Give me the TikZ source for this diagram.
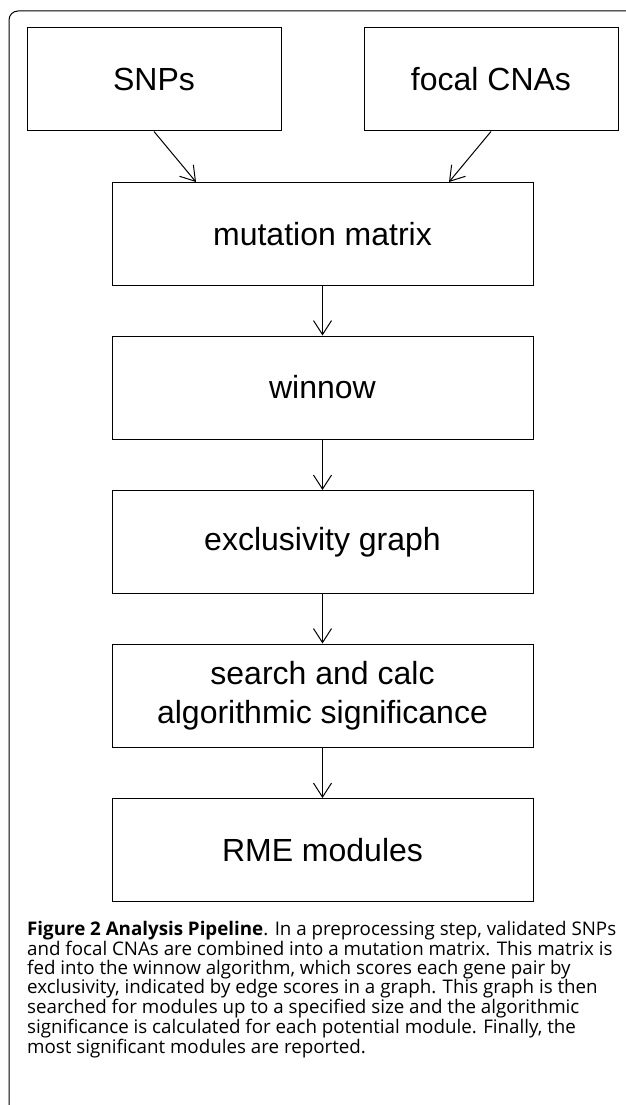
\documentclass[tikz,border=0pt]{standalone}
\usepackage{fontspec}
\setmainfont{Liberation Sans}
\newfontfamily\capfont{Open Sans}
\usetikzlibrary{arrows.meta}

\begin{document}
\begin{tikzpicture}[x=1pt,y=-1pt,
  stage/.style={draw,line width=1pt,minimum height=103pt,inner sep=0pt,
    font=\fontsize{32}{39}\selectfont,align=center},
  small/.style={stage,minimum width=254pt},
  wide/.style={stage,minimum width=421pt},
  flow/.style={line width=1pt,-{Straight Barb[length=14pt,width=18pt,line width=1pt]}}]
\useasboundingbox (0,0) rectangle (625,1105);
\draw[line width=1pt,rounded corners=9pt] (9,1106) -- (9,11) -- (626,11);
\node[small] (snp) at (154,79.5) {SNPs};
\node[small] (cna) at (491,79.5) {focal CNAs};
\node[wide] (mut) at (322.5,234) {mutation matrix};
\node[wide] (win) at (322.5,387.5) {winnow};
\node[wide] (excl) at (322.5,542) {exclusivity graph};
\node[wide] (srch) at (322.5,695.5) {search and calc\\algorithmic significance};
\node[wide] (rme) at (322.5,850) {RME modules};
\draw[flow] (snp.south) -- ([xshift=-126.5pt]mut.north);
\draw[flow] (cna.south) -- ([xshift=126.5pt]mut.north);
\draw[flow] (mut) -- (win);
\draw[flow] (win) -- (excl);
\draw[flow] (excl) -- (srch);
\draw[flow] (srch) -- (rme);
% caption below the boxes
\node[anchor=north west,inner sep=0pt,align=left,
  font=\capfont\fontsize{18.75}{18.2}\selectfont] (cap) at (27,921.5)
  {\textbf{Figure 2 Analysis Pipeline}. In a preprocessing step, validated SNPs\\
   and focal CNAs are combined into a mutation matrix. This matrix is\\
   fed into the winnow algorithm, which scores each gene pair by\\
   exclusivity, indicated by edge scores in a graph. This graph is then\\
   searched for modules up to a specified size and the algorithmic\\
   significance is calculated for each potential module. Finally, the\\
   most significant modules are reported.};
\end{tikzpicture}
\end{document}
